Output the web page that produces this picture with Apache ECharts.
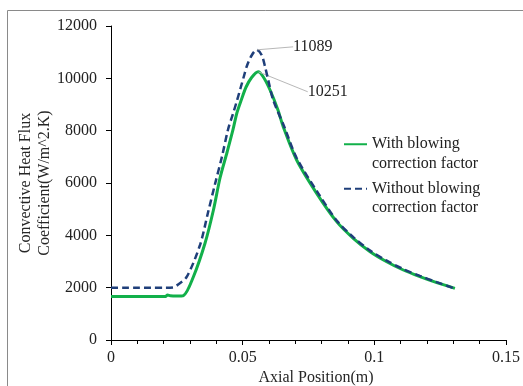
<!DOCTYPE html>
<html>
<head>
<meta charset="utf-8">
<script src="https://cdn.jsdelivr.net/npm/echarts@6/dist/echarts.min.js"></script>
<style>
  html, body { margin: 0; padding: 0; background: #fff; }
  #chart { width: 523px; height: 386px; }
</style>
</head>
<body>
<div id="chart"></div>
<script>
// Convective heat flux coefficient along the axial position
const withX = [0, 0.005, 0.01, 0.015, 0.0205, 0.0215, 0.0225, 0.025, 0.0275, 0.0313, 0.0357, 0.0389, 0.0414, 0.0441, 0.0463, 0.0478, 0.0496, 0.0513, 0.0534, 0.0559, 0.0578, 0.0604, 0.0634, 0.0654, 0.0705, 0.0781, 0.0857, 0.092, 0.0984, 0.1047, 0.111, 0.1173, 0.1237, 0.1306];
const withY = [1660, 1660, 1660, 1660, 1660, 1720, 1690, 1680, 1700, 2419, 3696, 4968, 6191, 7185, 8026, 8675, 9210, 9669, 10032, 10251, 10062, 9554, 8790, 8151, 6879, 5606, 4522, 3886, 3375, 2992, 2675, 2420, 2190, 1975];

const withoutX = [0, 0.005, 0.01, 0.015, 0.02, 0.0235, 0.0255, 0.0288, 0.0338, 0.0368, 0.0395, 0.0422, 0.0444, 0.0463, 0.0478, 0.0492, 0.0505, 0.0516, 0.0534, 0.0553, 0.0572, 0.0585, 0.0597, 0.0616, 0.0658, 0.0705, 0.0787, 0.0857, 0.092, 0.0984, 0.1047, 0.111, 0.1173, 0.1237, 0.1306];
const withoutY = [2000, 2000, 2000, 2000, 2000, 2010, 2120, 2419, 3631, 4854, 5962, 7032, 8026, 8637, 9134, 9631, 10089, 10471, 10873, 11089, 10892, 10445, 9936, 9172, 8152, 6955, 5606, 4570, 3930, 3415, 3030, 2710, 2450, 2210, 1965];

const seriesNames = ['With blowing\ncorrection factor', 'Without blowing\ncorrection factor'];
const peakValues = [10251, 11089];

const FONT = '"Liberation Serif", "Times New Roman", serif';

// Only the peak point carries a (transparent) symbol so that its value label can be shown
function toPoints(xs, ys, peak) {
  return xs.map((x, i) => {
    const item = { value: [x, ys[i]] };
    if (ys[i] === peak) {
      item.symbol = 'circle';
      item.symbolSize = 1;
      item.label = { show: true, formatter: String(peak) };
    }
    return item;
  });
}

const chart = echarts.init(document.getElementById('chart'), null, { renderer: 'canvas' });

const peakLabel = {
  show: false,
  position: 'right',
  distance: 5,
  fontFamily: FONT,
  fontSize: 16,
  color: '#222'
};

chart.setOption({
  animation: false,
  backgroundColor: '#fff',
  graphic: [{
    type: 'rect',
    silent: true,
    shape: { x: 7.5, y: 10.5, width: 620, height: 500 },
    style: { fill: 'none', stroke: '#8a8a8a', lineWidth: 1 }
  }],
  grid: { left: 111, right: 17, top: 26, bottom: 46, outerBoundsMode: 'none', containLabel: false },
  legend: {
    orient: 'vertical',
    left: 338,
    top: 110,
    itemWidth: 23,
    itemHeight: 14,
    itemGap: -14,
    itemStyle: { opacity: 0 },
    // blank first line keeps the marker level with the first text line
    formatter: (name) => '\n' + name,
    textStyle: {
      fontFamily: FONT,
      fontSize: 16,
      lineHeight: 19.5,
      color: '#222'
    },
    data: seriesNames
  },
  xAxis: {
    type: 'value',
    min: 0,
    max: 0.15,
    interval: 0.05,
    name: 'Axial Position(m)',
    nameLocation: 'middle',
    nameGap: 30,
    nameMoveOverlap: false,
    nameTextStyle: { fontFamily: FONT, fontSize: 16, color: '#262626', padding: [0, 0, 0, 15] },
    axisLine: { lineStyle: { color: '#000', width: 1 } },
    axisTick: { show: true, length: 5, lineStyle: { color: '#000' } },
    minorTick: { show: true, splitNumber: 5, length: 4, lineStyle: { color: '#000' } },
    axisLabel: { fontFamily: FONT, fontSize: 16, color: '#222', margin: 10 },
    splitLine: { show: false }
  },
  yAxis: {
    type: 'value',
    min: 0,
    max: 12000,
    interval: 2000,
    name: 'Convective Heat Flux\nCoefficient(W/m^2.K)',
    nameLocation: 'middle',
    nameGap: 57,
    nameMoveOverlap: false,
    nameTextStyle: { fontFamily: FONT, fontSize: 16, lineHeight: 19, color: '#262626' },
    axisLine: { show: true, lineStyle: { color: '#000', width: 1 } },
    axisTick: { show: true, length: 5, lineStyle: { color: '#000' } },
    axisLabel: { fontFamily: FONT, fontSize: 16, color: '#222', margin: 14, formatter: (v) => String(v) },
    splitLine: { show: false }
  },
  series: [
    {
      name: seriesNames[0],
      type: 'line',
      symbol: 'none',
      showAllSymbol: true,
      smooth: 0.3,
      z: 2,
      lineStyle: { color: '#12b04a', width: 3 },
      itemStyle: { color: 'rgba(0,0,0,0)' },
      label: peakLabel,
      labelLine: { show: true, lineStyle: { color: '#b8b8b8', width: 1 } },
      labelLayout: { dx: 44, dy: 20 },
      data: toPoints(withX, withY, peakValues[0])
    },
    {
      name: seriesNames[1],
      type: 'line',
      symbol: 'none',
      showAllSymbol: true,
      smooth: 0.3,
      z: 3,
      lineStyle: { color: '#1f3f7a', width: 2.5, type: [7, 4] },
      itemStyle: { color: 'rgba(0,0,0,0)' },
      label: peakLabel,
      labelLine: { show: true, lineStyle: { color: '#b8b8b8', width: 1 } },
      labelLayout: { dx: 31, dy: -3 },
      data: toPoints(withoutX, withoutY, peakValues[1])
    }
  ]
});
</script>
</body>
</html>
